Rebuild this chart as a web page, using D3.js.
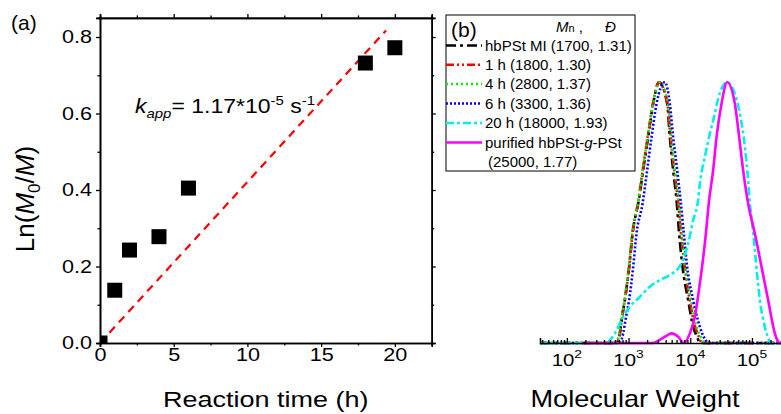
<!DOCTYPE html>
<html><head><meta charset="utf-8">
<script src="https://cdn.jsdelivr.net/npm/d3@7"></script>
<style>body{margin:0;background:#fff}svg{display:block}</style>
</head><body><svg id="c" width="781" height="414" font-family="'Liberation Sans', Arial, Helvetica, sans-serif"></svg>
<script>
// ---------- Panel (a) data ----------
const times = [0, 1, 2, 4, 6, 18, 20];
const lnRatio = [0, 0.138, 0.243, 0.278, 0.405, 0.732, 0.772];
const kappPerSecond = 1.17e-5;
const fitTimes = [0, 19.4];
const xTicksA = [0, 5, 10, 15, 20];
const xMinorA = [2.5, 7.5, 12.5, 17.5, 22.5];
const yTicksA = [0, 0.2, 0.4, 0.6, 0.8];
const yMinorA = [0.1, 0.3, 0.5, 0.7];

// ---------- Panel (b) data : [log10(M), normalized intensity] ----------
const curveMI = [[1.565,0],[2.80,0],[2.859,0.037],[2.896,0.101],[2.940,0.165],[3.010,0.292],[3.065,0.420],[3.167,0.548],[3.237,0.663],[3.318,0.790],[3.399,0.918],[3.496,1.0],[3.626,0.918],[3.669,0.790],[3.723,0.663],[3.778,0.548],[3.820,0.420],[3.875,0.292],[3.966,0.165],[4.047,0.062],[4.112,0.024],[4.156,0],[5.5,0]];
const curve1h = [[1.565,0],[2.80,0],[2.859,0.037],[2.896,0.101],[2.940,0.165],[3.010,0.292],[3.065,0.420],[3.160,0.548],[3.230,0.663],[3.310,0.790],[3.395,0.918],[3.49,1.0],[3.63,0.918],[3.68,0.790],[3.74,0.663],[3.80,0.548],[3.85,0.420],[3.91,0.292],[3.99,0.165],[4.08,0.062],[4.14,0.024],[4.19,0],[5.5,0]];
const curve4h = [[1.565,0],[2.79,0],[2.85,0.037],[2.89,0.101],[2.935,0.165],[3.005,0.292],[3.06,0.420],[3.16,0.548],[3.23,0.663],[3.31,0.790],[3.40,0.918],[3.50,1.0],[3.64,0.918],[3.69,0.790],[3.75,0.663],[3.81,0.548],[3.86,0.420],[3.92,0.292],[4.01,0.165],[4.10,0.062],[4.17,0.024],[4.24,0],[5.5,0]];
const curve6h = [[1.565,0],[2.86,0],[2.912,0.037],[2.96,0.101],[3.01,0.165],[3.075,0.292],[3.129,0.420],[3.227,0.535],[3.302,0.663],[3.373,0.790],[3.454,0.918],[3.588,1.0],[3.669,0.918],[3.723,0.790],[3.788,0.663],[3.843,0.548],[3.896,0.420],[3.950,0.292],[4.047,0.165],[4.156,0.062],[4.237,0.015],[4.30,0],[5.5,0]];
const curve20h = [[1.565,0],[2.65,0],[2.697,0.01],[2.778,0.037],[2.912,0.101],[3.021,0.139],[3.183,0.177],[3.345,0.216],[3.507,0.241],[3.669,0.261],[3.804,0.286],[3.885,0.318],[3.966,0.382],[4.047,0.471],[4.128,0.55],[4.156,0.612],[4.237,0.714],[4.318,0.803],[4.399,0.880],[4.452,0.937],[4.598,1.0],[4.804,0.880],[4.885,0.752],[4.938,0.625],[4.966,0.535],[4.993,0.484],[5.047,0.356],[5.128,0.165],[5.209,0.062],[5.290,0.005],[5.31,0],[5.5,0]];
const curvePurified = [[2.30,0],[3.40,0],[3.454,0.005],[3.588,0.024],[3.697,0.037],[3.804,0.024],[3.896,0],[3.994,0.037],[4.075,0.101],[4.156,0.229],[4.237,0.382],[4.306,0.548],[4.371,0.663],[4.426,0.790],[4.507,0.918],[4.598,1.0],[4.723,0.918],[4.793,0.790],[4.857,0.663],[4.938,0.535],[5.047,0.420],[5.156,0.292],[5.262,0.165],[5.371,0.037],[5.425,0.005],[5.452,0],[5.5,0]];
const legendLabels = ["hbPSt MI (1700, 1.31)", "1 h (1800, 1.30)", "4 h (2800, 1.37)", "6 h (3300, 1.36)", "20 h (18000, 1.93)", "purified hbPSt-g-PSt"];
const seriesColors = ["#000000", "#ff0000", "#00ee00", "#0000ff", "#00eeee", "#ff00ff"];
const seriesDashes = ["10,4,3,4", "8,3,2,3,2,3", "2,3", "2,2", "8,3,3,3", null];
const xTickExpB = [2, 3, 4, 5];

const svg = d3.select("#c");
const SX = 1.2;

// ================= Panel (a) =================
const xA = d3.scaleLinear().domain([0, 22.5]).range([100, 431.7]);
const yA = d3.scaleLinear().domain([0, 0.85]).range([343, 17.9]);
const gA = svg.append("g");

svg.append("defs").append("clipPath").attr("id", "clipA")
  .append("rect").attr("x", xA(0)).attr("y", yA(0.85)).attr("width", xA(22.5) - xA(0)).attr("height", yA(0) - yA(0.85));

function styleAxis(g) {
  g.selectAll("path.domain").attr("stroke", "#000").attr("stroke-width", 1.6);
  g.selectAll(".tick line").attr("stroke", "#000").attr("stroke-width", 1.3);
}
const axL = gA.append("g").attr("transform", `translate(${xA(0)},0)`)
  .call(d3.axisLeft(yA).tickValues(yTicksA).tickSize(4).tickPadding(2.7).tickFormat(d3.format(".1f")));
gA.append("g").attr("transform", `translate(${xA(0)},0)`).call(d3.axisLeft(yA).tickValues(yMinorA).tickSize(2.5).tickFormat("")).call(styleAxis);
axL.call(styleAxis);
axL.selectAll("text").attr("font-size", 18).attr("fill", "#000").attr("font-family", null).attr("transform", `scale(${SX},1)`);

const axB = gA.append("g").attr("transform", `translate(0,${yA(0)})`)
  .call(d3.axisBottom(xA).tickValues(xTicksA).tickSize(4).tickPadding(1).tickFormat(d3.format("d")));
gA.append("g").attr("transform", `translate(0,${yA(0)})`).call(d3.axisBottom(xA).tickValues(xMinorA).tickSize(2.5).tickFormat("")).call(styleAxis);
axB.call(styleAxis);
axB.selectAll("text").attr("font-size", 18).attr("fill", "#000").attr("transform", `scale(${SX},1)`);
gA.selectAll("g").attr("font-family", null);

gA.append("g").attr("transform", `translate(0,${yA(0.85)})`)
  .call(d3.axisTop(xA).tickValues(xTicksA).tickSize(4).tickFormat("")).call(styleAxis);
gA.append("g").attr("transform", `translate(0,${yA(0.85)})`)
  .call(d3.axisTop(xA).tickValues(xMinorA).tickSize(2.5).tickFormat("")).call(styleAxis);
gA.append("g").attr("transform", `translate(${xA(22.5)},0)`)
  .call(d3.axisRight(yA).tickValues(yTicksA).tickSize(4).tickFormat("")).call(styleAxis);
gA.append("g").attr("transform", `translate(${xA(22.5)},0)`)
  .call(d3.axisRight(yA).tickValues(yMinorA).tickSize(2.5).tickFormat("")).call(styleAxis);

// fit line
const fitLine = d3.line().x(d => xA(d)).y(d => yA(d * 3600 * kappPerSecond));
gA.append("path").attr("d", fitLine(fitTimes)).attr("fill", "none").attr("stroke", "#ff0000")
  .attr("stroke-width", 2.2).attr("stroke-dasharray", "8,6").attr("clip-path", "url(#clipA)");

// squares
const sq = 15;
gA.append("g").attr("clip-path", "url(#clipA)").selectAll("rect").data(times).join("rect")
  .attr("x", (d) => xA(d) - sq / 2).attr("y", (d, i) => yA(lnRatio[i]) - sq / 2)
  .attr("width", sq).attr("height", sq).attr("fill", "#000");

// texts
gA.append("text").attr("x", 11).attr("y", 30).attr("font-size", 21).text("(a)");
const kt = gA.append("text").attr("transform", `translate(135,113) scale(1.15,1)`).attr("font-size", 20);
kt.append("tspan").attr("font-style", "italic").text("k");
kt.append("tspan").attr("font-style", "italic").attr("font-size", 13).attr("dy", 5).text("app");
kt.append("tspan").attr("dy", -5).text("= 1.17*10");
kt.append("tspan").attr("font-size", 13).attr("dy", -8).text("-5");
kt.append("tspan").attr("dy", 8).text(" s");
kt.append("tspan").attr("font-size", 13).attr("dy", -8).text("-1");

gA.append("text").attr("transform", `translate(${(xA(0) + xA(22.5)) / 2},407) scale(${SX},1)`)
  .attr("text-anchor", "middle").attr("font-size", 22.5).text("Reaction time (h)");
const yl = gA.append("text").attr("transform", "translate(34,199) rotate(-90)").attr("text-anchor", "middle").attr("font-size", 26);
yl.append("tspan").text("Ln(");
yl.append("tspan").attr("font-style", "italic").text("M");
yl.append("tspan").attr("font-size", 17).attr("dy", 6).text("0");
yl.append("tspan").attr("dy", -6).text("/");
yl.append("tspan").attr("font-style", "italic").text("M");
yl.append("tspan").text(")");

// ================= Panel (b) =================
const xB = d3.scaleLog().domain([Math.pow(10, 1.565), Math.pow(10, 5.5)]).range([540, 782.8]);
const yB = d3.scaleLinear().domain([0, 1]).range([343, 82.3]);
const gB = svg.append("g");

const minorB = [];
for (let e = 1; e <= 5; e++) for (let m = 2; m <= 9; m++) { const v = m * Math.pow(10, e); if (v > xB.domain()[0] && v < xB.domain()[1]) minorB.push(v); }
const majorB = xTickExpB.map(e => Math.pow(10, e));

const curves = [curveMI, curve1h, curve4h, curve6h, curve20h, curvePurified];
const lineB = d3.line().x(d => xB(Math.pow(10, d[0]))).y(d => yB(d[1])).curve(d3.curveMonotoneX);
curves.forEach((c, i) => {
  gB.append("path").attr("d", lineB(c)).attr("fill", "none").attr("stroke", seriesColors[i])
    .attr("stroke-width", 2.6).attr("stroke-dasharray", seriesDashes[i]);
});

const axBB = gB.append("g").attr("transform", `translate(0,${yB(0)})`)
  .call(d3.axisBottom(xB).tickValues(majorB).tickSize(-5).tickFormat(""));
axBB.call(styleAxis);
gB.append("g").attr("transform", `translate(0,${yB(0)})`)
  .call(d3.axisBottom(xB).tickValues(minorB).tickSize(-3).tickFormat("")).call(styleAxis)
  .selectAll("path.domain").remove();

majorB.forEach((v, i) => {
  const t = gB.append("text").attr("transform", `translate(${xB(v)},366) scale(${SX},1)`).attr("text-anchor", "middle").attr("font-size", 17);
  t.append("tspan").text("10");
  t.append("tspan").attr("font-size", 11.5).attr("dy", -8).text(xTickExpB[i]);
});
gB.append("text").attr("transform", `translate(635,407) scale(1.18,1)`).attr("text-anchor", "middle").attr("font-size", 23).text("Molecular Weight");

// legend
const lg = gB.append("g");
lg.append("rect").attr("x", 446).attr("y", 15).attr("width", 189).attr("height", 156)
  .attr("fill", "#fff").attr("stroke", "#000").attr("stroke-width", 1);
lg.append("text").attr("x", 451).attr("y", 37).attr("font-size", 21).text("(b)");
const mh = lg.append("text").attr("x", 556).attr("y", 32).attr("font-size", 15);
mh.append("tspan").attr("font-style", "italic").text("M");
mh.append("tspan").attr("font-size", 11).text("n");
mh.append("tspan").text(" ,");
lg.append("text").attr("x", 605).attr("y", 32).attr("font-size", 15).attr("font-style", "italic").text("Đ");
const rowY = [45.5, 64.8, 84, 103.5, 123, 142.5];
legendLabels.forEach((lab, i) => {
  lg.append("line").attr("x1", 446).attr("x2", 482).attr("y1", rowY[i]).attr("y2", rowY[i])
    .attr("stroke", seriesColors[i]).attr("stroke-width", 2.6).attr("stroke-dasharray", seriesDashes[i]);
  const t = lg.append("text").attr("x", 485).attr("y", rowY[i]).attr("dy", "0.36em").attr("font-size", 15);
  if (i === 5) {
    t.append("tspan").text("purified hbPSt-");
    t.append("tspan").attr("font-style", "italic").text("g");
    t.append("tspan").text("-PSt");
  } else t.text(lab);
});
lg.append("text").attr("x", 488).attr("y", 162).attr("dy", "0.36em").attr("font-size", 15).text("(25000, 1.77)");
</script></body></html>
